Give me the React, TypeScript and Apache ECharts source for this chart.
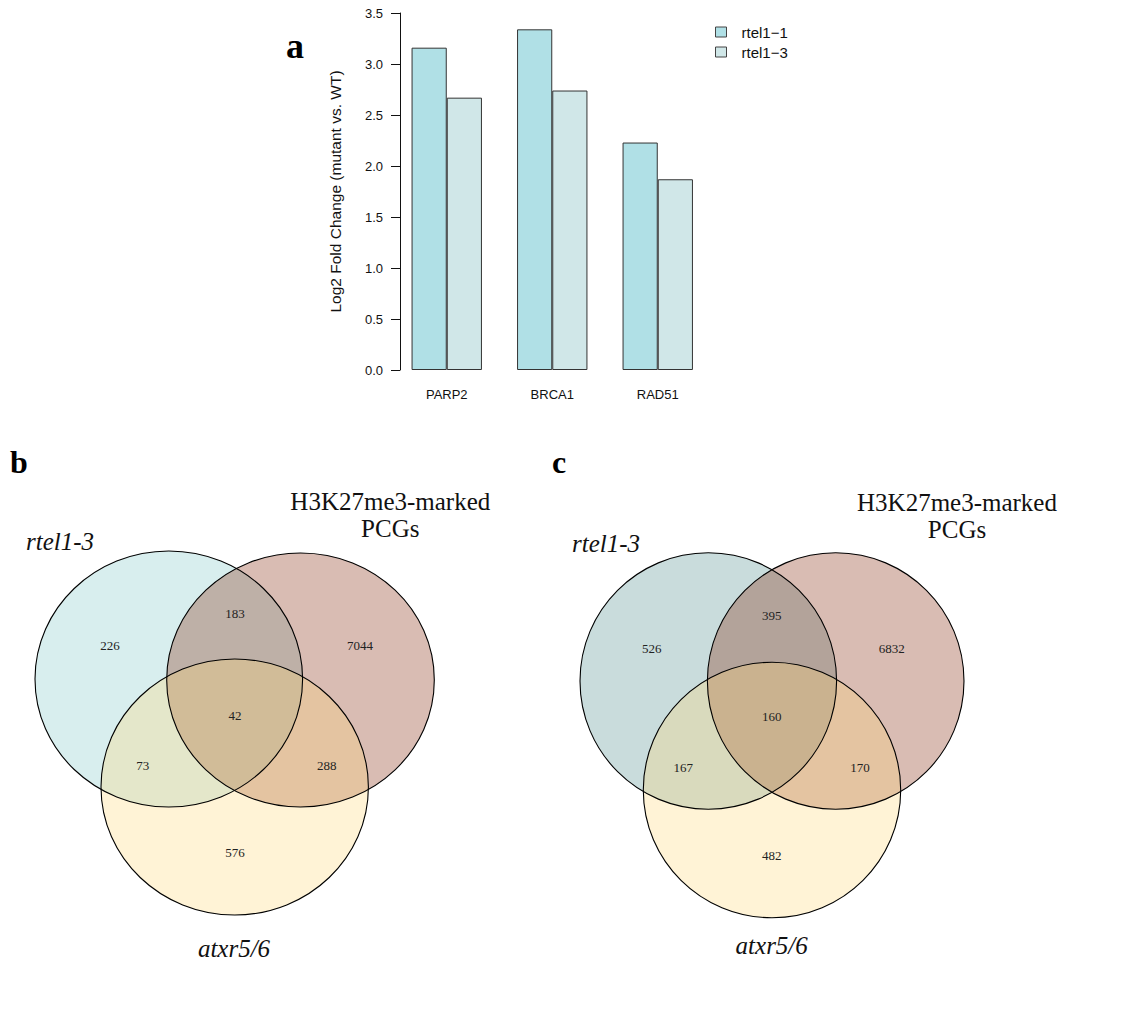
import React, { useEffect, useRef } from "react";
import * as echarts from "echarts";

// ---------- Panel a data ----------
const genes = ["PARP2", "BRCA1", "RAD51"];
const seriesNames = ["rtel1−1", "rtel1−3"];
const rtel1_1 = [3.16, 3.34, 2.23];
const rtel1_3 = [2.67, 2.74, 1.87];
const yMin = 0;
const yMax = 3.5;
const yInterval = 0.5;
const yAxisTitle = "Log2 Fold Change (mutant vs. WT)";

// ---------- Panels b / c data ----------
// region order: A only, A∩B, B only, A∩B∩C, A∩C, B∩C, C only
const vennSetA = "rtel1-3";
const vennSetB = "H3K27me3-marked\nPCGs";
const vennSetC = "atxr5/6";
const vennBCounts = [226, 183, 7044, 42, 73, 288, 576];
const vennCCounts = [526, 395, 6832, 160, 167, 170, 482];

// ---------- layout / style ----------
const SANS = "'Liberation Sans', Arial, Helvetica, sans-serif";
const SERIF = "'Liberation Serif', 'Times New Roman', serif";
const barColors = ["#B0E0E6", "#D0E7E8"];

type VennLayout = {
  circles: { cx: number; cy: number; rx: number; ry: number; fill: string }[];
  regions: [number, number][];
  labelA: [number, number];
  labelB: [number, number];
  labelC: [number, number];
  letter: [string, number, number];
};

const layoutB: VennLayout = {
  circles: [
    { cx: 168.8, cy: 679, rx: 133.8, ry: 128, fill: "rgba(125,198,198,0.3)" },
    { cx: 300.5, cy: 680, rx: 133.8, ry: 127, fill: "rgba(128,32,2,0.3)" },
    { cx: 234.7, cy: 787, rx: 133.7, ry: 128, fill: "rgba(255,215,118,0.3)" },
  ],
  regions: [
    [110, 645.7],
    [235, 613.3],
    [360, 645.7],
    [235, 715],
    [142.7, 765.7],
    [326.7, 765.7],
    [235, 852.7],
  ],
  labelA: [60, 541.7],
  labelB: [390.3, 515],
  labelC: [234, 948.3],
  letter: ["b", 19, 462],
};

const layoutC: VennLayout = {
  circles: [
    { cx: 708.3, cy: 681, rx: 128.3, ry: 128.2, fill: "rgba(75,138,138,0.3)" },
    { cx: 835.7, cy: 681, rx: 128.3, ry: 128.2, fill: "rgba(128,32,2,0.3)" },
    { cx: 772, cy: 790, rx: 128.7, ry: 127.7, fill: "rgba(255,215,118,0.3)" },
  ],
  regions: [
    [651.7, 648.3],
    [771.7, 615],
    [891.7, 648.3],
    [771.7, 716.7],
    [683.3, 767.7],
    [860, 767.7],
    [771.7, 855],
  ],
  labelA: [606, 543.3],
  labelB: [957, 516],
  labelC: [771.7, 945],
  letter: ["c", 559, 461.5],
};

function vennGraphics(counts: number[], L: VennLayout): any[] {
  const els: any[] = [];
  L.circles.forEach((c) => {
    els.push({
      type: "ellipse",
      silent: true,
      shape: { cx: c.cx, cy: c.cy, rx: c.rx, ry: c.ry },
      style: { fill: c.fill, stroke: "none" },
    });
  });
  L.circles.forEach((c) => {
    els.push({
      type: "ellipse",
      silent: true,
      shape: { cx: c.cx, cy: c.cy, rx: c.rx, ry: c.ry },
      style: { fill: "none", stroke: "#000", lineWidth: 1.1 },
    });
  });
  counts.forEach((v, i) => {
    const [x, y] = L.regions[i];
    els.push({
      type: "text",
      silent: true,
      x,
      y,
      style: {
        text: String(v),
        font: `13px ${SERIF}`,
        fill: "#222",
        align: "center",
        verticalAlign: "middle",
      },
    });
  });
  els.push({
    type: "text",
    silent: true,
    x: L.labelA[0],
    y: L.labelA[1],
    style: {
      text: vennSetA,
      font: `italic 25px ${SERIF}`,
      fill: "#111",
      align: "center",
      verticalAlign: "middle",
    },
  });
  els.push({
    type: "text",
    silent: true,
    x: L.labelB[0],
    y: L.labelB[1],
    style: {
      text: vennSetB,
      font: `25px ${SERIF}`,
      lineHeight: 27.5,
      fill: "#111",
      align: "center",
      verticalAlign: "middle",
    },
  });
  els.push({
    type: "text",
    silent: true,
    x: L.labelC[0],
    y: L.labelC[1],
    style: {
      text: vennSetC,
      font: `italic 25px ${SERIF}`,
      fill: "#111",
      align: "center",
      verticalAlign: "middle",
    },
  });
  els.push({
    type: "text",
    silent: true,
    x: L.letter[1],
    y: L.letter[2],
    style: {
      text: L.letter[0],
      font: `bold 32px ${SERIF}`,
      fill: "#000",
      align: "center",
      verticalAlign: "middle",
    },
  });
  return els;
}

export default function App() {
  const ref = useRef<HTMLDivElement>(null);
  useEffect(() => {
    const chart = echarts.init(ref.current!, null, { renderer: "svg" });
    const option: any = {
      animation: false,
      backgroundColor: "#fff",
      grid: { left: 394, top: 13, width: 316.5, height: 357, containLabel: false },
      legend: {
        data: seriesNames,
        orient: "vertical",
        left: 715,
        top: 24.5,
        padding: 0,
        itemWidth: 11,
        itemHeight: 10,
        itemGap: 5,
        icon: "rect",
        itemStyle: { borderColor: "#444", borderWidth: 1 },
        textStyle: {
          fontFamily: SANS,
          fontSize: 15,
          lineHeight: 15,
          color: "#111",
          padding: [0, 0, 0, 10],
        },
      },
      xAxis: {
        type: "category",
        data: genes,
        axisLine: { show: false },
        axisTick: { show: false },
        axisLabel: { fontFamily: SANS, fontSize: 13, color: "#111", margin: 18 },
      },
      yAxis: {
        type: "value",
        min: yMin,
        max: yMax,
        interval: yInterval,
        offset: -6,
        name: yAxisTitle,
        nameLocation: "middle",
        nameRotate: 90,
        nameGap: 57,
        nameTextStyle: { fontFamily: SANS, fontSize: 15.5, color: "#111" },
        splitLine: { show: false },
        axisLine: { show: true, lineStyle: { color: "#111", width: 1 } },
        axisTick: { show: true, inside: false, length: 9, lineStyle: { color: "#111" } },
        axisLabel: {
          fontFamily: SANS,
          fontSize: 13,
          color: "#111",
          margin: 17,
          formatter: (v: number) => v.toFixed(1),
        },
      },
      series: [
        {
          name: seriesNames[0],
          type: "bar",
          data: rtel1_1,
          barWidth: 35.2,
          barGap: "0%",
          itemStyle: { color: barColors[0], borderColor: "#333", borderWidth: 1 },
        },
        {
          name: seriesNames[1],
          type: "bar",
          data: rtel1_3,
          barWidth: 35.2,
          barGap: "0%",
          itemStyle: { color: barColors[1], borderColor: "#333", borderWidth: 1 },
        },
      ],
      graphic: [
        {
          type: "text",
          silent: true,
          x: 295,
          y: 46,
          style: {
            text: "a",
            font: `bold 36px ${SERIF}`,
            fill: "#000",
            align: "center",
            verticalAlign: "middle",
          },
        },
        ...vennGraphics(vennBCounts, layoutB),
        ...vennGraphics(vennCCounts, layoutC),
      ],
    };
    chart.setOption(option);
    return () => chart.dispose();
  }, []);
  return (
    <div
      ref={ref}
      style={{ position: "fixed", left: 0, top: 0, width: 1123, height: 1010, background: "#fff" }}
    />
  );
}
